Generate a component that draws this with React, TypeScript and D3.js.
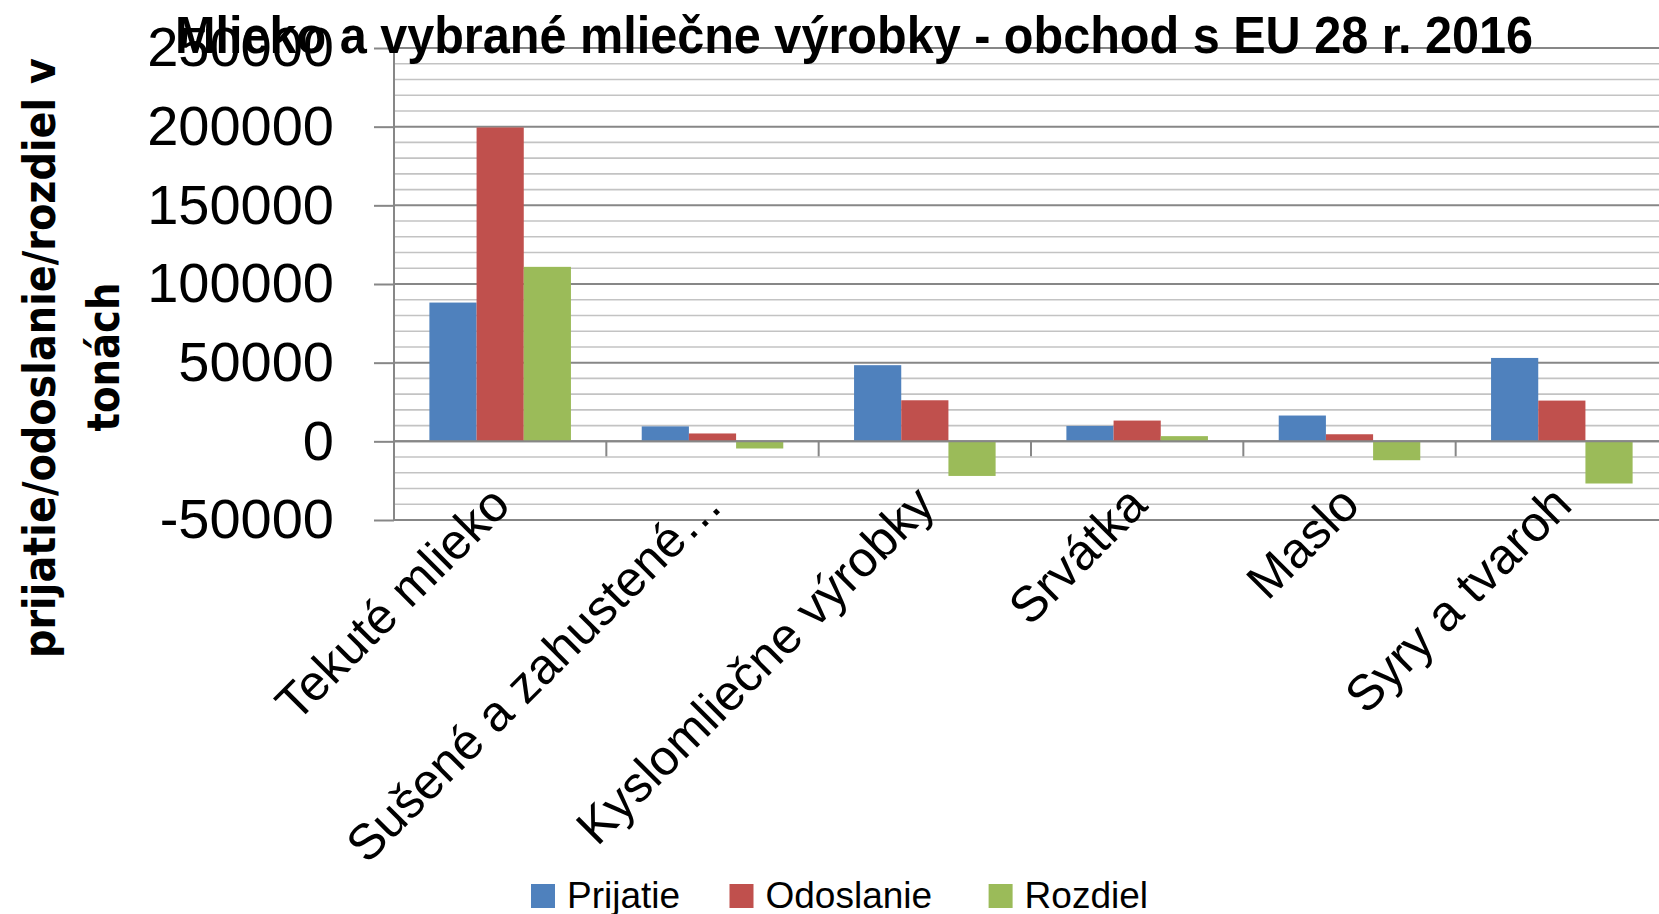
import * as d3 from "d3";
import {useRef, useEffect} from "react";

const categories = ["Tekuté mlieko", "Sušené a zahustené…", "Kyslomliečne výrobky", "Srvátka", "Maslo", "Syry a tvaroh"];
const seriesNames = ["Prijatie", "Odoslanie", "Rozdiel"];
const prijatie = [88200, 9500, 48400, 9800, 16400, 53000];
const odoslanie = [199500, 5000, 26100, 13200, 4500, 25900];
const rozdiel = [110900, -4550, -22000, 3300, -12000, -26800];
const majorTicks = [-50000, 0, 50000, 100000, 150000, 200000, 250000];
const colors = ["#4F81BD", "#C0504D", "#9BBB59"];
const title = "Mlieko a vybrané mliečne výrobky - obchod s EU 28 r. 2016";
const yTitle = ["prijatie/odoslanie/rozdiel v", "tonách"];

export default function App({
  width = 1659,
  height = 914,
  marginTop = 48,
  marginBottom = 394, // space under the plot
  marginLeft = 394,
  plotRight = 1668
}) {
  const gy = useRef(null);
  const values = [prijatie, odoslanie, rozdiel];
  const y = d3.scaleLinear([-50000, 250000], [height - marginBottom, marginTop]);
  const x = d3.scaleBand(categories, [marginLeft, plotRight]);
  const bw = x.bandwidth();
  // gap width 150% of a bar -> half a gap each side
  const xs = d3.scaleBand(seriesNames, [bw / 6, bw - bw / 6]);
  const minor = d3.range(-50000, 250001, 10000).filter((v) => v % 50000 !== 0);

  useEffect(() => {
    const g = d3.select(gy.current);
    g.call(d3.axisLeft(y).tickValues(majorTicks).tickSize(20).tickPadding(40).tickFormat((d) => String(d)));
    g.select(".domain").remove();
    g.selectAll(".tick line").attr("stroke", "#878787").attr("stroke-width", 2);
    g.selectAll(".tick text")
      .attr("fill", "#000")
      .attr("font-size", 56)
      .attr("font-family", "'Liberation Sans', Arial, sans-serif");
  }, [y]);

  const legendX = [531, 729.5, 988.6];

  return (
    <svg width={width} height={height} style={{position: "absolute", left: 0, top: 0, background: "#fff"}}>
      <rect width={width} height={height} fill="#fff" />
      {/* minor gridlines */}
      <g stroke="#c3c3c3" strokeWidth="1.6">
        {minor.map((v) => (<line key={v} x1={marginLeft} x2={plotRight} y1={y(v)} y2={y(v)} />))}
      </g>
      <g stroke="#878787" strokeWidth="2">
        {majorTicks.map((v) => (<line key={v} x1={marginLeft} x2={plotRight} y1={y(v)} y2={y(v)} />))}
      </g>
      {/* bars */}
      {values.map((vals, si) => (
        <g key={si} fill={colors[si]}>
          {vals.map((v, i) => (
            <rect key={i} x={x(categories[i]) + xs(seriesNames[si])} width={xs.bandwidth()}
              y={Math.min(y(v), y(0))} height={Math.abs(y(v) - y(0))} />
          ))}
        </g>
      ))}
      {/* axes */}
      <line x1={marginLeft} x2={marginLeft} y1={marginTop} y2={y(-50000)} stroke="#878787" strokeWidth="2" />
      <line x1={marginLeft} x2={plotRight} y1={y(0)} y2={y(0)} stroke="#878787" strokeWidth="2" />
      <g stroke="#878787" strokeWidth="2">
        {categories.slice(1).map((c) => (<line key={c} x1={x(c)} x2={x(c)} y1={y(0)} y2={y(0) + 15} />))}
      </g>
      <g ref={gy} transform={`translate(${marginLeft},0)`} />
      {/* category labels */}
      <g fontFamily="'Liberation Sans', Arial, sans-serif" fontSize="50" fill="#000">
        {categories.map((c) => (
          <text key={c} transform={`translate(${x(c) + bw / 2},${y(-50000) - 25}) rotate(-45)`} textAnchor="end" dy="0.35em">{c}</text>
        ))}
      </g>
      {/* y title */}
      <g fontFamily="'DejaVu Sans', Verdana, sans-serif" fontWeight="bold" fontSize="44" fill="#000">
        <text transform="translate(55,358) rotate(-90)" textAnchor="middle" textLength="600" lengthAdjust="spacingAndGlyphs">{yTitle[0]}</text>
        <text transform="translate(119,357) rotate(-90)" textAnchor="middle" textLength="149" lengthAdjust="spacingAndGlyphs">{yTitle[1]}</text>
      </g>
      {/* title */}
      <text x={175} y={53} fontFamily="'Liberation Sans', Arial, sans-serif" fontWeight="bold" fontSize="52"
        textLength="1358" lengthAdjust="spacingAndGlyphs" fill="#000">{title}</text>
      {/* legend */}
      <g fontFamily="'Liberation Sans', Arial, sans-serif" fontSize="37" fill="#000">
        {seriesNames.map((s, i) => (
          <g key={s} transform={`translate(${legendX[i]},884)`}>
            <rect width="24" height="24" fill={colors[i]} />
            <text x="36" y="23.5">{s}</text>
          </g>
        ))}
      </g>
    </svg>
  );
}
